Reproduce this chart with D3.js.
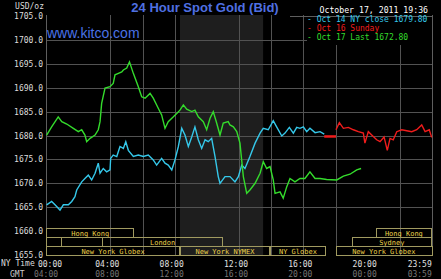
<!DOCTYPE html>
<html>
<head>
<meta charset="utf-8">
<script src="https://cdn.jsdelivr.net/npm/d3@7"></script>
<style>
  html, body { margin: 0; padding: 0; background: #000; }
  svg { display: block; }
</style>
</head>
<body>
<div id="chart"></div>
<script>
// values: [hour of day (NY time), bid in USD/oz]
var oct14 = [
  [0.04, 1665.5], [0.35, 1666.2], [0.56, 1665.5], [0.87, 1664.4], [1.08, 1665.5], [1.39, 1665.5],
  [1.60, 1666.2], [1.80, 1667.2], [1.91, 1668.6], [2.22, 1670.3], [2.42, 1671.0], [2.63, 1671.7],
  [2.84, 1670.7], [3.05, 1672.1], [3.25, 1674.2], [3.36, 1672.1], [3.56, 1673.1], [3.77, 1672.4],
  [3.98, 1672.8], [4.02, 1675.2], [4.18, 1675.9], [4.40, 1675.6], [4.60, 1677.7], [4.81, 1677.3],
  [4.96, 1678.7], [5.12, 1676.9], [5.43, 1675.6], [5.74, 1675.9], [6.05, 1675.6], [6.36, 1675.9],
  [6.67, 1674.9], [6.88, 1673.8], [7.19, 1675.2], [7.40, 1674.2], [7.60, 1673.8], [7.82, 1672.8],
  [8.02, 1674.9], [8.23, 1677.7], [8.44, 1681.5], [8.64, 1680.1], [8.85, 1677.7], [9.06, 1679.7],
  [9.26, 1681.8], [9.47, 1679.1], [9.68, 1677.3], [9.89, 1679.1], [10.09, 1678.7], [10.30, 1679.4],
  [10.51, 1675.6], [10.71, 1671.4], [10.82, 1670.0], [11.13, 1671.4], [11.44, 1671.4], [11.75, 1670.3],
  [11.96, 1671.4], [12.17, 1673.8], [12.37, 1673.1], [12.68, 1675.6], [13.00, 1678.4], [13.31, 1680.5],
  [13.51, 1681.5], [13.82, 1681.2], [14.13, 1683.1], [14.34, 1681.8], [14.66, 1679.9], [14.86, 1680.5],
  [15.13, 1681.7], [15.38, 1680.5], [15.59, 1681.7], [15.79, 1681.5], [16.00, 1681.8], [16.21, 1680.8],
  [16.41, 1681.5], [16.73, 1680.6], [17.04, 1680.8], [17.30, 1680.3]
];
var oct16Gap = [[17.30, 1679.8], [18.03, 1679.8]];
var oct16 = [
  [18.03, 1681.2], [18.24, 1682.7], [18.49, 1681.5], [18.80, 1681.7], [19.11, 1681.2], [19.42, 1680.8],
  [19.73, 1680.5], [19.83, 1678.4], [20.04, 1680.8], [20.25, 1680.1], [20.56, 1679.1], [20.77, 1678.7],
  [21.02, 1679.7], [21.22, 1676.9], [21.39, 1679.4], [21.59, 1679.1], [21.81, 1680.8], [22.12, 1681.2],
  [22.43, 1681.0], [22.74, 1680.8], [23.05, 1681.2], [23.36, 1682.2], [23.57, 1680.8], [23.83, 1681.2],
  [23.98, 1679.6]
];
var oct17 = [
  [0.04, 1680.1], [0.35, 1681.8], [0.76, 1683.9], [0.98, 1682.9], [1.29, 1682.4], [1.70, 1681.5],
  [2.01, 1680.8], [2.22, 1681.2], [2.42, 1680.1], [2.53, 1678.7], [2.74, 1679.4], [3.05, 1680.1],
  [3.25, 1681.2], [3.36, 1682.9], [3.46, 1686.7], [3.67, 1689.9], [3.98, 1690.2], [4.18, 1690.9],
  [4.29, 1692.7], [4.50, 1693.0], [4.71, 1693.3], [4.81, 1693.7], [5.02, 1694.1], [5.19, 1695.4],
  [5.43, 1693.0], [5.74, 1690.2], [5.95, 1688.1], [6.16, 1687.8], [6.47, 1688.8], [6.67, 1687.8],
  [6.98, 1685.7], [7.19, 1684.3], [7.40, 1681.5], [7.60, 1682.9], [7.92, 1683.9], [8.13, 1684.6],
  [8.33, 1685.3], [8.54, 1686.4], [8.75, 1685.5], [9.06, 1685.0], [9.26, 1685.3], [9.47, 1683.9],
  [9.78, 1682.9], [9.99, 1681.2], [10.20, 1683.6], [10.40, 1685.0], [10.61, 1682.6], [10.82, 1680.1],
  [11.02, 1682.6], [11.33, 1682.9], [11.44, 1682.2], [11.65, 1681.8], [11.86, 1680.8], [12.06, 1678.4],
  [12.27, 1671.4], [12.48, 1667.9], [12.68, 1668.6], [13.00, 1670.0], [13.31, 1672.1], [13.51, 1674.5],
  [13.72, 1673.1], [13.93, 1673.5], [14.13, 1670.7], [14.24, 1667.9], [14.55, 1668.2], [14.75, 1666.9],
  [14.97, 1669.3], [15.17, 1671.0], [15.48, 1670.3], [15.79, 1671.0], [16.10, 1671.0], [16.41, 1672.4],
  [16.73, 1671.0], [17.04, 1671.0], [17.45, 1670.8], [18.08, 1670.7], [18.49, 1671.5], [18.90, 1671.9],
  [19.32, 1672.8], [19.59, 1673.1]
];

var yTicks = [1655, 1660, 1665, 1670, 1675, 1680, 1685, 1690, 1695, 1700, 1705];
var gridPrices = [1665, 1670, 1675, 1680, 1685, 1690, 1695, 1700];
var gridHours = [4, 6, 8, 12, 14, 16, 18, 22];
var nyTicks = [0, 4, 8, 12, 16, 20, 23.98];
var nyLabels = ['00:00', '04:00', '08:00', '12:00', '16:00', '20:00', '23:59'];
var gmtLabels = ['04:00', '08:00', '12:00', '16:00', '20:00', '00:00', '03:59'];
var comexHours = [8.33, 13.5];

// trading sessions: row, start hour, end hour, name
var sessions = [
  [0, 0, 5.5, 'Hong Kong'], [0, 20.5, 24, 'Hong Kong'],
  [1, 0, 1.0, ''], [1, 3.5, 11.0, 'London'], [1, 19.0, 24, 'Sydney'],
  [2, 0, 8.33, 'New York Globex'], [2, 8.33, 13.93, 'New York NYMEX'],
  [2, 13.93, 17.4, 'NY Globex'], [2, 18.0, 24, 'New York Globex']
];

var legendItems = [
  { text: '- Oct 14 NY close 1679.80', color: '#35c8ea' },
  { text: '- Oct 16 Sunday', color: '#f01c1c' },
  { text: '- Oct 17 Last 1672.80', color: '#34dc2c' }
];

var WIDTH = 441;
var HEIGHT = 279;
var PLOT = { left: 46, right: 432, top: 16, bottom: 255 };
var ROW_H = 9;
var MONO = "'DejaVu Sans Mono', monospace";
var SANS = "'Liberation Sans', Arial, sans-serif";

var svg = d3.select('#chart').append('svg')
    .attr('width', WIDTH)
    .attr('height', HEIGHT);

svg.append('rect').attr('width', WIDTH).attr('height', HEIGHT).attr('fill', '#000');

var x = d3.scaleLinear().domain([0, 24]).range([PLOT.left, PLOT.right]);
var y = d3.scaleLinear().domain([1655, 1705]).range([PLOT.bottom, PLOT.top]);

// comex shading
svg.append('rect')
    .attr('x', x(comexHours[0]))
    .attr('y', PLOT.top - 1)
    .attr('width', x(comexHours[1]) - x(comexHours[0]))
    .attr('height', PLOT.bottom - PLOT.top + 1)
    .attr('fill', '#1e1e1e');

// grid
svg.append('g').selectAll('line').data(gridPrices).enter().append('line')
    .attr('x1', PLOT.left).attr('x2', PLOT.right)
    .attr('y1', function (d) { return Math.round(y(d)) + 0.5; })
    .attr('y2', function (d) { return Math.round(y(d)) + 0.5; })
    .attr('stroke', '#525252');
svg.append('g').selectAll('line').data(gridHours).enter().append('line')
    .attr('x1', function (d) { return Math.round(x(d)) + 0.5; })
    .attr('x2', function (d) { return Math.round(x(d)) + 0.5; })
    .attr('y1', PLOT.top - 1).attr('y2', PLOT.bottom)
    .attr('stroke', '#525252');

// frame
svg.append('line').attr('x1', PLOT.left + 0.5).attr('x2', PLOT.left + 0.5)
    .attr('y1', PLOT.top - 1).attr('y2', PLOT.bottom).attr('stroke', '#5e5e5e');
svg.append('line').attr('x1', PLOT.right + 0.5).attr('x2', PLOT.right + 0.5)
    .attr('y1', PLOT.top - 1).attr('y2', PLOT.bottom).attr('stroke', '#5e5e5e');

// sessions
var rowTop = PLOT.bottom - 3 * ROW_H;
var sess = svg.append('g').selectAll('g').data(sessions).enter().append('g');
sess.append('rect')
    .attr('x', function (d) { return Math.round(x(d[1])) + 0.5; })
    .attr('y', function (d) { return rowTop + d[0] * ROW_H + 0.5; })
    .attr('width', function (d) { return Math.round(x(d[2]) - x(d[1])) - 1; })
    .attr('height', ROW_H)
    .attr('fill', 'none')
    .attr('stroke', '#a09a60');
sess.append('text')
    .attr('x', function (d) { return (x(d[1]) + x(d[2])) / 2; })
    .attr('y', function (d) { return rowTop + d[0] * ROW_H + 7.5; })
    .attr('text-anchor', 'middle')
    .attr('font-family', MONO)
    .attr('font-size', 7)
    .attr('fill', '#ecd24a')
    .text(function (d) { return d[3]; });

// series
var line = d3.line()
    .x(function (d) { return x(d[0]); })
    .y(function (d) { return y(d[1]); });
svg.append('path').datum(oct14).attr('d', line)
    .attr('fill', 'none').attr('stroke', '#35c8ea').attr('stroke-width', 1.4);
svg.append('path').datum(oct16Gap).attr('d', line)
    .attr('fill', 'none').attr('stroke', '#f01c1c').attr('stroke-width', 2.5);
svg.append('path').datum(oct16).attr('d', line)
    .attr('fill', 'none').attr('stroke', '#f01c1c').attr('stroke-width', 1.4);
svg.append('path').datum(oct17).attr('d', line)
    .attr('fill', 'none').attr('stroke', '#34dc2c').attr('stroke-width', 1.4);

// y axis labels
svg.append('g').selectAll('text').data(yTicks).enter().append('text')
    .attr('x', 43)
    .attr('y', function (d) { return y(d) + 3; })
    .attr('text-anchor', 'end')
    .attr('font-family', MONO)
    .attr('font-size', 8)
    .attr('fill', '#dddddd')
    .text(function (d) { return d3.format('.1f')(d); });
svg.append('text').attr('x', 44).attr('y', 9).attr('text-anchor', 'end')
    .attr('font-family', MONO).attr('font-size', 8).attr('fill', '#dddddd')
    .text('USD/oz');

// x axis labels
svg.append('g').selectAll('text').data(nyTicks).enter().append('text')
    .attr('x', function (d, i) { return x(d) + (i == 0 ? 4 : (i == nyTicks.length - 1 ? -12 : -3)); })
    .attr('y', 267)
    .attr('text-anchor', 'middle')
    .attr('font-family', MONO)
    .attr('font-size', 8)
    .attr('fill', '#e0e0e0')
    .text(function (d, i) { return nyLabels[i]; });
svg.append('g').selectAll('text').data(nyTicks).enter().append('text')
    .attr('x', function (d, i) { return x(d) + (i == 0 ? 0 : (i == nyTicks.length - 1 ? -12 : -3)); })
    .attr('y', 277)
    .attr('text-anchor', 'middle')
    .attr('font-family', MONO)
    .attr('font-size', 8)
    .attr('fill', '#777777')
    .text(function (d, i) { return gmtLabels[i]; });
svg.append('text').attr('x', 1).attr('y', 266)
    .attr('font-family', MONO).attr('font-size', 8).attr('fill', '#dddddd')
    .text('NY Time');
svg.append('text').attr('x', 10).attr('y', 277)
    .attr('font-family', MONO).attr('font-size', 8).attr('fill', '#cccccc')
    .text('GMT');

// legend box
svg.append('rect').attr('x', 307).attr('y', PLOT.top).attr('width', PLOT.right - 307)
    .attr('height', 29).attr('fill', '#000');
svg.append('line').attr('x1', 290).attr('x2', PLOT.right + 1)
    .attr('y1', PLOT.top + 0.5).attr('y2', PLOT.top + 0.5).attr('stroke', '#5e5e5e');
svg.append('g').selectAll('text').data(legendItems).enter().append('text')
    .attr('x', 307)
    .attr('y', function (d, i) { return 22 + i * 9; })
    .attr('font-family', MONO)
    .attr('font-size', 8)
    .attr('fill', function (d) { return d.color; })
    .text(function (d) { return d.text; });
svg.append('text').attr('x', 428).attr('y', 13).attr('text-anchor', 'end')
    .attr('font-family', MONO).attr('font-size', 8.2).attr('fill', '#ffffff')
    .text('October 17, 2011 19:36');

// titles
svg.append('text').attr('x', 205).attr('y', 12).attr('text-anchor', 'middle')
    .attr('font-family', SANS).attr('font-size', 13).attr('font-weight', 'bold')
    .attr('fill', '#4f70e2')
    .text('24 Hour Spot Gold (Bid)');
svg.append('text').attr('x', 47).attr('y', 38)
    .attr('font-family', SANS).attr('font-size', 14)
    .attr('fill', '#4a72e6')
    .text('www.kitco.com');
</script>
</body>
</html>
